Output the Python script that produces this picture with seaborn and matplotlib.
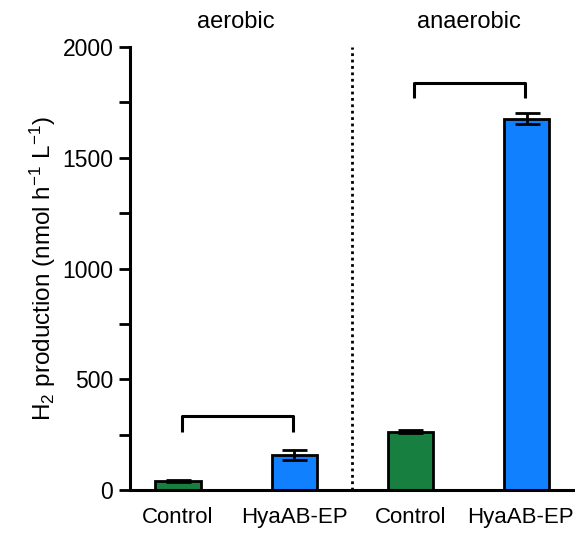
import matplotlib
matplotlib.use("Agg")
import matplotlib.pyplot as plt
import matplotlib.transforms as mtransforms
import seaborn as sns
import pandas as pd
from matplotlib.ticker import MultipleLocator

conditions = ["aerobic", "aerobic", "anaerobic", "anaerobic"]
strains = ["Control", "HyaAB-EP", "Control", "HyaAB-EP"]
h2_means = [40, 157, 263, 1677]
h2_errs = [5, 22, 7, 25]
bracket_tops = [335, 1838]
bracket_ends = [263, 1771]
group_labels = ["aerobic", "anaerobic"]

sns.set_theme(style="ticks")
plt.rcParams["font.family"] = ["Liberation Sans", "DejaVu Sans"]
plt.rcParams["mathtext.default"] = "regular"
plt.rcParams["text.color"] = "black"
plt.rcParams["axes.labelcolor"] = "black"
plt.rcParams["xtick.color"] = "black"
plt.rcParams["ytick.color"] = "black"
plt.rcParams["axes.edgecolor"] = "black"

df = pd.DataFrame({
    "bar": [f"{c} {s}" for c, s in zip(conditions, strains)],
    "strain": strains,
    "value": h2_means,
})

fig = plt.figure(figsize=(5.75, 5.33), dpi=100)
ax = fig.add_axes([130 / 575, 1 - 490 / 533, 443 / 575, 443 / 533])

palette = {"Control": "#177f3f", "HyaAB-EP": "#1180fe"}
sns.barplot(data=df, x="bar", y="value", hue="strain", palette=palette,
            dodge=False, width=0.39, edgecolor="black", linewidth=2,
            legend=False, ax=ax, saturation=1)

xs = list(range(len(h2_means)))
ax.errorbar(xs, h2_means, yerr=h2_errs, fmt="none", ecolor="black",
            elinewidth=2, capsize=9, capthick=2, zorder=5)

# brackets
for g in range(2):
    x0, x1 = xs[2 * g] + 0.03, xs[2 * g + 1] - 0.01
    ax.plot([x0, x0, x1, x1],
            [bracket_ends[g], bracket_tops[g], bracket_tops[g], bracket_ends[g]],
            color="black", lw=2.2, solid_capstyle="butt", clip_on=False)

# divider
ax.axvline(1.5, color="black", lw=2, ls=(0, (1, 1.3)), ymin=0, ymax=1)

ax.set_xlim(-0.414, 3.4)
ax.set_ylim(0, 2000)
ax.yaxis.set_major_locator(MultipleLocator(500))
ax.yaxis.set_minor_locator(MultipleLocator(250))
ax.tick_params(axis="y", which="major", length=8, width=2, labelsize=16.5, pad=4)
ax.tick_params(axis="y", which="minor", length=8, width=2)
ax.tick_params(axis="x", length=0, labelsize=16, pad=12)
ax.set_xticks(xs)
ax.set_xticklabels(strains)
last = ax.get_xticklabels()[-1]
last.set_transform(last.get_transform() +
                   mtransforms.ScaledTranslation(-6 / 100, 0, fig.dpi_scale_trans))
for sp in ["top", "right"]:
    ax.spines[sp].set_visible(False)
for sp in ["left", "bottom"]:
    ax.spines[sp].set_linewidth(2.2)
ax.set_xlabel("")
ax.set_ylabel(r"H$_2$ production (nmol h$^{-1}$ L$^{-1}$)", fontsize=17.5, labelpad=3)

for g, lab in enumerate(group_labels):
    ax.text((xs[2 * g] + xs[2 * g + 1]) / 2, 1.057, lab, transform=ax.get_xaxis_transform(),
            ha="center", va="center", fontsize=17)

fig.savefig("out.png", dpi=100)
